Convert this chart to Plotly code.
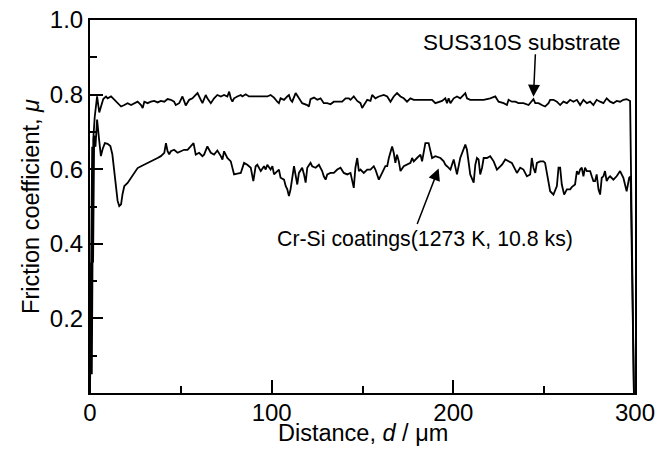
import plotly.graph_objects as go

# Sliding distance (um) and friction coefficient of SUS310S substrate
substrate_d = [0.0, 0.6, 1.0, 1.8, 2.6, 3.4, 3.9, 5.1, 6.2, 7.3, 8.8, 9.7, 11.6, 13.4, 15.2, 16.1,
               17.1, 18.9, 20.7, 22.6, 24.4, 26.2, 28.1, 29.0, 29.9, 31.7, 33.5, 35.4, 37.2, 39.0,
               40.9, 42.7, 44.5, 46.3, 47.2, 49.1, 50.9, 52.7, 54.6, 56.4, 58.2, 59.2, 61.0, 61.9,
               63.7, 64.6, 66.5, 68.3, 70.1, 72.0, 73.8, 75.6, 76.6, 77.5, 78.4, 79.3, 81.1, 83.0,
               83.9, 85.7, 87.5, 90.3, 94.0, 97.6, 99.4, 101.3, 103.1, 104.0, 104.9, 106.8, 108.6,
               109.5, 110.4, 111.3, 113.2, 115.0, 116.8, 119.6, 120.5, 121.4, 123.3, 125.1, 126.9,
               128.7, 130.6, 132.4, 134.2, 136.1, 138.8, 140.7, 142.5, 143.4, 145.2, 147.1, 148.9,
               149.8, 150.7, 152.6, 154.4, 155.3, 157.1, 159.0, 161.7, 163.6, 165.4, 167.2, 169.0,
               170.9, 172.7, 174.5, 176.4, 178.2, 181.9, 185.5, 188.3, 190.1, 191.9, 193.8, 195.6,
               196.5, 197.4, 198.4, 200.2, 202.0, 203.8, 205.7, 206.6, 207.5, 209.3, 211.2, 213.0,
               216.7, 220.3, 223.1, 224.9, 227.7, 229.5, 230.4, 232.2, 234.1, 235.9, 238.6, 241.4,
               243.2, 244.1, 245.1, 246.9, 248.7, 250.5, 252.4, 253.3, 255.1, 257.0, 258.8, 260.6,
               262.5, 264.3, 266.1, 268.0, 269.8, 271.6, 273.5, 275.3, 277.1, 278.9, 280.8, 282.6,
               284.4, 286.3, 288.1, 289.9, 291.8, 293.6, 295.4, 297.3, 299.4]
substrate_mu = [0.0, 0.35, 0.05, 0.68, 0.74, 0.77, 0.795, 0.752, 0.772, 0.788, 0.795, 0.790, 0.795,
                0.786, 0.777, 0.772, 0.768, 0.772, 0.777, 0.772, 0.777, 0.781, 0.772, 0.764, 0.781,
                0.777, 0.781, 0.783, 0.779, 0.783, 0.781, 0.788, 0.786, 0.781, 0.772, 0.777, 0.795,
                0.771, 0.786, 0.790, 0.799, 0.804, 0.786, 0.777, 0.799, 0.790, 0.777, 0.790, 0.799,
                0.795, 0.799, 0.795, 0.808, 0.790, 0.781, 0.790, 0.795, 0.799, 0.795, 0.801, 0.795,
                0.795, 0.795, 0.795, 0.799, 0.792, 0.781, 0.777, 0.790, 0.786, 0.795, 0.799, 0.786,
                0.781, 0.804, 0.790, 0.777, 0.772, 0.768, 0.788, 0.792, 0.786, 0.790, 0.777, 0.777,
                0.774, 0.781, 0.781, 0.781, 0.790, 0.790, 0.786, 0.795, 0.783, 0.777, 0.764, 0.772,
                0.786, 0.783, 0.799, 0.790, 0.795, 0.799, 0.795, 0.781, 0.795, 0.804, 0.795, 0.790,
                0.781, 0.790, 0.786, 0.786, 0.786, 0.786, 0.777, 0.781, 0.783, 0.790, 0.777, 0.790,
                0.777, 0.790, 0.795, 0.790, 0.799, 0.804, 0.790, 0.786, 0.786, 0.786, 0.786, 0.790,
                0.795, 0.781, 0.777, 0.772, 0.786, 0.781, 0.781, 0.777, 0.777, 0.772, 0.781, 0.788,
                0.777, 0.777, 0.772, 0.768, 0.777, 0.786, 0.786, 0.781, 0.772, 0.781, 0.777, 0.786,
                0.781, 0.786, 0.772, 0.786, 0.777, 0.781, 0.772, 0.786, 0.781, 0.777, 0.790, 0.781,
                0.777, 0.783, 0.781, 0.786, 0.788, 0.783, 0.0]

# Cr-Si coatings (1273 K, 10.8 ks)
coating_d = [0.0, 1.2, 1.7, 2.3, 3.0, 3.9, 5.0, 6.0, 7.0, 8.2, 9.7, 11.2, 12.3, 13.4, 14.3, 15.2,
             16.1, 17.1, 17.9, 18.9, 20.7, 22.6, 24.4, 26.2, 28.1, 29.9, 31.7, 33.5, 35.4, 37.2,
             39.0, 40.9, 41.8, 42.7, 43.6, 44.5, 46.3, 48.2, 50.0, 51.8, 53.7, 55.5, 57.0, 58.2,
             60.1, 61.9, 62.8, 64.6, 66.5, 68.3, 70.1, 72.0, 72.9, 73.8, 75.6, 77.5, 79.3, 81.1,
             83.0, 84.8, 86.6, 88.5, 89.9, 91.2, 92.1, 94.0, 95.8, 96.7, 97.6, 99.4, 100.4, 101.3,
             103.1, 104.0, 104.9, 106.8, 107.7, 108.6, 109.5, 110.4, 112.3, 113.2, 114.1, 115.0,
             116.8, 117.8, 118.7, 119.6, 121.4, 122.3, 124.2, 126.0, 127.8, 128.7, 129.7, 130.6,
             132.4, 134.2, 136.1, 137.9, 139.7, 141.6, 143.4, 145.2, 146.1, 147.1, 148.0, 148.9,
             150.7, 152.6, 154.4, 156.2, 157.1, 159.0, 160.8, 162.6, 163.6, 164.5, 166.3, 167.2,
             168.1, 169.0, 170.0, 170.9, 172.7, 174.5, 176.4, 177.3, 178.2, 180.0, 181.9, 182.8,
             183.7, 184.6, 186.4, 187.4, 188.3, 190.1, 192.9, 194.7, 195.6, 196.5, 198.4, 200.2,
             201.1, 202.0, 203.8, 204.8, 206.6, 207.5, 208.4, 209.3, 211.2, 212.1, 213.0, 213.9,
             214.8, 215.8, 216.7, 218.5, 220.3, 222.2, 224.0, 224.9, 226.8, 228.6, 230.4, 232.2,
             234.1, 235.0, 236.8, 238.6, 240.5, 242.3, 243.2, 244.1, 245.1, 246.0, 247.8, 249.6,
             250.5, 252.4, 253.3, 255.1, 257.0, 257.9, 258.8, 259.7, 261.0, 262.5, 264.3, 265.2,
             267.0, 268.0, 268.9, 269.8, 270.7, 271.6, 272.5, 273.5, 275.3, 276.2, 277.1, 278.0,
             278.9, 279.9, 280.8, 281.7, 282.6, 283.5, 284.4, 285.4, 286.3, 288.1, 289.9, 291.8,
             293.6, 295.4, 296.8, 297.6, 299.4]
coating_mu = [0.0, 0.66, 0.35, 0.69, 0.66, 0.733, 0.68, 0.635, 0.655, 0.670, 0.668, 0.662, 0.640,
              0.595, 0.550, 0.515, 0.501, 0.506, 0.533, 0.555, 0.563, 0.577, 0.590, 0.603, 0.608,
              0.612, 0.617, 0.621, 0.626, 0.630, 0.635, 0.644, 0.670, 0.648, 0.640, 0.648, 0.652,
              0.644, 0.648, 0.652, 0.652, 0.661, 0.670, 0.639, 0.644, 0.635, 0.639, 0.661, 0.644,
              0.639, 0.650, 0.635, 0.626, 0.648, 0.630, 0.621, 0.586, 0.588, 0.590, 0.617, 0.612,
              0.604, 0.568, 0.608, 0.612, 0.595, 0.608, 0.599, 0.612, 0.599, 0.608, 0.586, 0.595,
              0.599, 0.577, 0.572, 0.555, 0.546, 0.528, 0.546, 0.608, 0.581, 0.559, 0.590, 0.604,
              0.586, 0.564, 0.604, 0.617, 0.608, 0.604, 0.612, 0.595, 0.581, 0.572, 0.586, 0.590,
              0.590, 0.599, 0.604, 0.590, 0.586, 0.590, 0.550, 0.604, 0.630, 0.595, 0.599, 0.590,
              0.599, 0.599, 0.608, 0.599, 0.572, 0.590, 0.608, 0.608, 0.630, 0.661, 0.644, 0.617,
              0.639, 0.621, 0.595, 0.608, 0.612, 0.617, 0.630, 0.621, 0.630, 0.639, 0.621, 0.648,
              0.670, 0.670, 0.644, 0.630, 0.635, 0.630, 0.621, 0.612, 0.608, 0.599, 0.626, 0.608,
              0.586, 0.630, 0.644, 0.666, 0.652, 0.621, 0.586, 0.564, 0.612, 0.630, 0.626, 0.586,
              0.604, 0.630, 0.630, 0.635, 0.621, 0.599, 0.604, 0.612, 0.626, 0.621, 0.617, 0.599,
              0.590, 0.604, 0.599, 0.581, 0.586, 0.630, 0.604, 0.590, 0.617, 0.621, 0.621, 0.617,
              0.572, 0.541, 0.532, 0.555, 0.604, 0.604, 0.559, 0.532, 0.546, 0.546, 0.552, 0.559,
              0.595, 0.586, 0.599, 0.604, 0.581, 0.604, 0.595, 0.595, 0.581, 0.568, 0.568, 0.586,
              0.546, 0.532, 0.577, 0.581, 0.595, 0.568, 0.577, 0.581, 0.572, 0.581, 0.595, 0.577,
              0.541, 0.577, 0.581, 0.0]

x_ticks = [0, 100, 200, 300]
y_ticks = [0.2, 0.4, 0.6, 0.8, 1.0]
y_tick_text = ["0.2", "0.4", "0.6", "0.8", "1.0"]

FONT = "Liberation Sans, Arial, sans-serif"

fig = go.Figure()
fig.add_trace(go.Scatter(x=substrate_d, y=substrate_mu, mode="lines",
                         line=dict(color="black", width=1.8), showlegend=False))
fig.add_trace(go.Scatter(x=coating_d, y=coating_mu, mode="lines",
                         line=dict(color="black", width=1.8), showlegend=False))

# page body has an 8px margin, so the figure is sized/offset to compensate
fig.update_layout(
    width=662, height=442,
    margin=dict(l=82, r=35, t=12, b=57),
    paper_bgcolor="white", plot_bgcolor="white",
    font=dict(family=FONT, color="black", size=24),
    showlegend=False,
)
fig.update_xaxes(
    range=[0, 300], tickvals=x_ticks, ticks="inside", ticklen=13, tickwidth=1.5,
    tickcolor="black", showline=True, linecolor="black", linewidth=2, mirror=True,
    showgrid=False, zeroline=False, tickfont=dict(size=24), automargin=False,
    ticklabeloverflow="allow", ticklabelstandoff=-3,
    minor=dict(tickvals=[50, 150, 250], ticks="inside", ticklen=7, tickwidth=1.5, tickcolor="black"),
)
fig.update_yaxes(
    range=[0, 1.0], tickvals=y_ticks, ticktext=y_tick_text, ticks="inside", ticklen=13,
    tickwidth=1.5, tickcolor="black", showline=True, linecolor="black", linewidth=2,
    mirror=True, showgrid=False, zeroline=False, tickfont=dict(size=24), automargin=False,
    ticklabeloverflow="allow",
    minor=dict(tickvals=[0.1, 0.3, 0.5, 0.7, 0.9], ticks="inside", ticklen=7, tickwidth=1.5,
               tickcolor="black"),
    title=dict(text="Friction coefficient, <i>μ</i>", font=dict(size=23.5), standoff=4),
)

# x-axis title
fig.add_annotation(x=0.5, y=-0.107, xref="paper", yref="paper",
                   text="Distance, <i>d</i> / μm", showarrow=False,
                   font=dict(size=23.5), xanchor="center", yanchor="middle")

# arrows
fig.add_annotation(x=244.1, y=0.794, xref="x", yref="y", text="", showarrow=True,
                   ax=2, ay=-44, arrowhead=2, arrowsize=1.6, arrowwidth=1.5,
                   arrowcolor="black", standoff=0)
fig.add_annotation(x=191.9, y=0.602, xref="x", yref="y", text="", showarrow=True,
                   ax=-22, ay=57, arrowhead=2, arrowsize=1.6, arrowwidth=1.5,
                   arrowcolor="black", standoff=0)
# labels
fig.add_annotation(x=237.9, y=0.941, xref="x", yref="y", text="SUS310S substrate",
                   showarrow=False, font=dict(size=22.5), xanchor="center", yanchor="middle")
fig.add_annotation(x=184.5, y=0.413, xref="x", yref="y", text="Cr-Si coatings(1273 K, 10.8 ks)",
                   showarrow=False, font=dict(size=21.3), xanchor="center", yanchor="middle")

fig.write_html("out.html")
